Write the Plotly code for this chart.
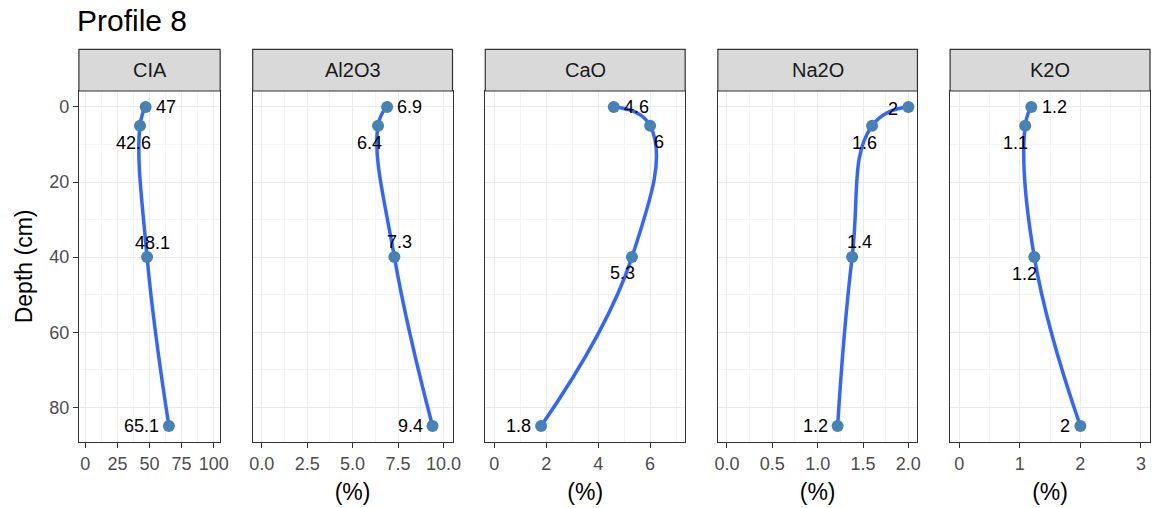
import plotly.graph_objects as go

# Soil profile 8: element concentrations against sampling depth
depth = [0, 5, 40, 85]
elements = ["CIA", "Al2O3", "CaO", "Na2O", "K2O"]
cia = [47.0, 42.6, 48.1, 65.1]
al2o3 = [6.9, 6.4, 7.3, 9.4]
cao = [4.6, 6.0, 5.3, 1.8]
na2o = [2.0, 1.6, 1.38, 1.22]
k2o = [1.19, 1.09, 1.24, 2.0]

x_ticks = {
    "CIA": [0, 25, 50, 75, 100],
    "Al2O3": [0.0, 2.5, 5.0, 7.5, 10.0],
    "CaO": [0, 2, 4, 6],
    "Na2O": [0.0, 0.5, 1.0, 1.5, 2.0],
    "K2O": [0, 1, 2, 3],
}
x_tick_text = {
    "CIA": ["0", "25", "50", "75", "100"],
    "Al2O3": ["0.0", "2.5", "5.0", "7.5", "10.0"],
    "CaO": ["0", "2", "4", "6"],
    "Na2O": ["0.0", "0.5", "1.0", "1.5", "2.0"],
    "K2O": ["0", "1", "2", "3"],
}
depth_ticks = [0, 20, 40, 60, 80]

values = {"CIA": cia, "Al2O3": al2o3, "CaO": cao, "Na2O": na2o, "K2O": k2o}

# ---- layout constants (pixels) ----
W, H = 1161, 508
panel_px = [(76.7, 219.4), (252.3, 454.2), (487.3, 689.3), (722.3, 924.0), (957.0, 1159.0)]
x_ranges = [(-5, 105), (-0.5, 10.5), (-0.35, 7.35), (-0.1, 2.1), (-0.15, 3.15)]
minor_dtick = [12.5, 1.25, 1, 0.25, 0.5]
panel_top, panel_bot = 91.0, 442.0
strip_top = 49.3
y_range = (89.25, -4.25)

# value-label placement: (xanchor, xshift px, yshift px) for each sample
label_place = {
    "CIA": [("left", 8, 0), ("center", -7, -17), ("center", 5, 14), ("right", -8, 0)],
    "Al2O3": [("left", 8, 0), ("center", -9, -17), ("center", 5, 15), ("right", -8, 0)],
    "CaO": [("left", 8, 0), ("center", 9, -16), ("center", -9, -16), ("right", -8, 0)],
    "Na2O": [("right", -8, -2), ("center", -8, -17), ("center", 7, 15), ("right", -8, 0)],
    "K2O": [("left", 9, 0), ("center", -10, -17), ("center", -10, -17), ("right", -8, 0)],
}

FONT = "Liberation Sans, Arial, sans-serif"
BORDER = "#333333"
GRID = "#EBEBEB"
GRID_MINOR = "#F4F4F4"


def px_x(p):
    return p / W


def px_y(p):
    return 1 - p / H


def fmt(v):
    return f"{round(v, 1):g}"


fig = go.Figure()
shapes = []
annotations = []

for i, el in enumerate(elements):
    idx = "" if i == 0 else str(i + 1)
    xa, ya = "x" + idx, "y" + idx
    vals = values[el]

    # smooth profile curve through the measured points
    fig.add_trace(go.Scatter(
        x=vals, y=depth, xaxis=xa, yaxis=ya, mode="lines",
        line=dict(color="#3366FF", width=3.5, shape="spline", smoothing=1.3),
        hoverinfo="skip", showlegend=False,
    ))
    fig.add_trace(go.Scatter(
        x=vals, y=depth, xaxis=xa, yaxis=ya, mode="markers",
        marker=dict(color="#4682B4", size=12),
        showlegend=False,
    ))
    for v, d, (anc, dx, dy) in zip(vals, depth, label_place[el]):
        annotations.append(dict(
            text=fmt(v), xref=xa, yref=ya, x=v, y=d,
            xanchor=anc, yanchor="middle", xshift=dx, yshift=dy,
            showarrow=False,
            font=dict(family=FONT, size=18, color="#000000"),
        ))

    x0, x1 = panel_px[i]
    xdom = [px_x(x0), px_x(x1)]
    fig.update_layout(**{
        ("xaxis" + idx): dict(
            domain=xdom, range=list(x_ranges[i]), anchor=ya,
            tickvals=x_ticks[el], ticktext=x_tick_text[el],
            ticks="outside", ticklen=5, tickwidth=1.2, tickcolor=BORDER,
            tickfont=dict(family=FONT, size=18, color="#4D4D4D"),
            showgrid=True, gridcolor=GRID, gridwidth=1.3,
            minor=dict(dtick=minor_dtick[i], tick0=0, showgrid=True,
                       gridcolor=GRID_MINOR, gridwidth=0.8),
            showline=True, mirror=True, linecolor=BORDER, linewidth=1.2,
            zeroline=False, fixedrange=True,
            title=dict(text="" if el == "CIA" else "(%)",
                       font=dict(family=FONT, size=23, color="#000000"),
                       standoff=11),
        ),
        ("yaxis" + idx): dict(
            domain=[px_y(panel_bot), px_y(panel_top)], range=list(y_range),
            anchor=xa, tickvals=depth_ticks,
            ticks="outside" if i == 0 else "", ticklen=5, tickwidth=1.2,
            tickcolor=BORDER, showticklabels=(i == 0),
            tickfont=dict(family=FONT, size=18, color="#4D4D4D"),
            showgrid=True, gridcolor=GRID, gridwidth=1.3,
            minor=dict(dtick=10, tick0=0, showgrid=True,
                       gridcolor=GRID_MINOR, gridwidth=0.8),
            showline=True, mirror=True, linecolor=BORDER, linewidth=1.2,
            zeroline=False, fixedrange=True,
            **({} if i == 0 else {"matches": "y"}),
        ),
    })

    # facet strip
    shapes.append(dict(
        type="rect", xref="paper", yref="paper",
        x0=xdom[0], x1=xdom[1], y0=px_y(panel_top), y1=px_y(strip_top),
        fillcolor="#D9D9D9", line=dict(color=BORDER, width=1.2), layer="above",
    ))
    annotations.append(dict(
        text=el, xref="paper", yref="paper",
        x=(xdom[0] + xdom[1]) / 2, y=px_y((strip_top + panel_top) / 2),
        xanchor="center", yanchor="middle", showarrow=False,
        font=dict(family=FONT, size=20, color="#1A1A1A"),
    ))

annotations.append(dict(
    text="Profile 8", xref="paper", yref="paper",
    x=px_x(73), y=px_y(20), xanchor="left", yanchor="middle", showarrow=False,
    font=dict(family=FONT, size=30, color="#000000"),
))
annotations.append(dict(
    text="Depth (cm)", xref="paper", yref="paper",
    x=px_x(21), y=px_y((panel_top + panel_bot) / 2), textangle=-90,
    xanchor="center", yanchor="middle", showarrow=False,
    font=dict(family=FONT, size=23, color="#000000"),
))

fig.update_layout(
    width=W, height=H, margin=dict(l=0, r=0, t=0, b=0),
    paper_bgcolor="white", plot_bgcolor="white",
    shapes=shapes, annotations=annotations, showlegend=False,
)

fig.write_html("out.html")
